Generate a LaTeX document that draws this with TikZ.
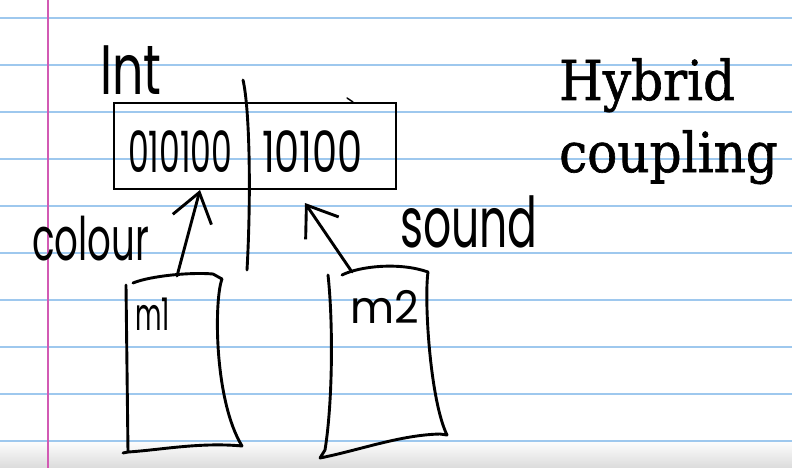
\documentclass[tikz,border=0pt]{standalone}
\usepackage{fontspec}
\newfontfamily\handfont{Poppins}
\newfontfamily\slabfont[FakeBold=1.2]{DejaVu Serif}
\usetikzlibrary{arrows.meta}
\definecolor{rulecol}{RGB}{158,200,238}
\definecolor{margincol}{RGB}{210,90,180}
\tikzset{
  page/.style={x=1pt, y=-1pt},
  rule/.style={draw=rulecol, line width=1.2pt},
  marginline/.style={draw=margincol, line width=1.1pt},
  ink/.style={black, line width=2.9pt, line cap=round, line join=round},
  inkarrow/.style={ink, -{Straight Barb[length=28pt, width=40pt]}},
  hand/.style={font=\handfont, inner sep=0pt, anchor=base west},
  title/.style={font=\slabfont\fontsize{55}{66}\selectfont, inner sep=0pt, anchor=base west, xscale=0.91},
  bitbox/.style={draw, line width=2.9pt, minimum width=282pt, minimum height=86pt, inner sep=0pt},
}
\begin{document}
\begin{tikzpicture}[page]
  \useasboundingbox (0,0) rectangle (792,468);
  % paper
  \fill[white] (0,0) rectangle (792,468);
  \shade[top color=white, bottom color=black!14] (0,440) rectangle (792,468);
  \foreach \k in {0,...,9}
    \draw[rule] (0,18+47*\k) -- (792,18+47*\k);
  \draw[marginline] (48,0) -- (48,468);

  % the int and its bits
  \node[hand, xscale=0.7] (int) at (100,95) {\fontsize{70}{70}\selectfont Int};
  \node[bitbox] (word) at (255,146) {};
  \node[hand, xscale=0.58] (bitsa) at (128,172) {\fontsize{57}{57}\selectfont 010100};
  \node[hand, xscale=0.7] (bitsb) at (262,172) {\fontsize{57}{57}\selectfont 10100};
  \draw[ink] (243,80) .. controls (250,110) and (251,200) .. (247,270);
  \draw[ink, line width=1.4pt] (347,98) -- (353,102);

  % m1
  \draw[ink] (126,285) -- (128,452) -- (123,453);
  \draw[ink] (133,283) .. controls (150,276) and (190,272) .. (213,274) -- (222,279)
    .. controls (214,300) and (214,400) .. (242,446)
    .. controls (200,442) and (160,450) .. (128,452);
  \node[hand, xscale=0.57] (m1) at (135,330) {\fontsize{45}{45}\selectfont m1};

  % m2
  \draw[ink] (342,275) .. controls (360,266) and (400,262) .. (428,272)
    .. controls (424,300) and (430,400) .. (447,435) -- (440,434)
    .. controls (400,435) and (360,450) .. (320,458) -- (325,450)
    .. controls (333,400) and (333,320) .. (328,275);
  \node[hand, xscale=0.95] (m2) at (350,323) {\fontsize{45}{45}\selectfont m2};

  % couplings
  \coordinate (m1top) at (177,276);
  \coordinate (tipA) at (200,190);
  \coordinate (m2top) at (352,272);
  \coordinate (tipB) at (305,203);
  \draw[inkarrow] (m1top) -- (tipA);
  \draw[inkarrow] (m2top) -- (tipB);
  \node[hand, xscale=0.62] (colour) at (32,260) {\fontsize{60}{60}\selectfont colour};
  \node[hand, xscale=0.63] (sound) at (400,247) {\fontsize{70}{70}\selectfont sound};

  \node[title] (hyb) at (559,100) {Hybrid};
  \node[title] (coup) at (559,172) {coupling};
\end{tikzpicture}
\end{document}
